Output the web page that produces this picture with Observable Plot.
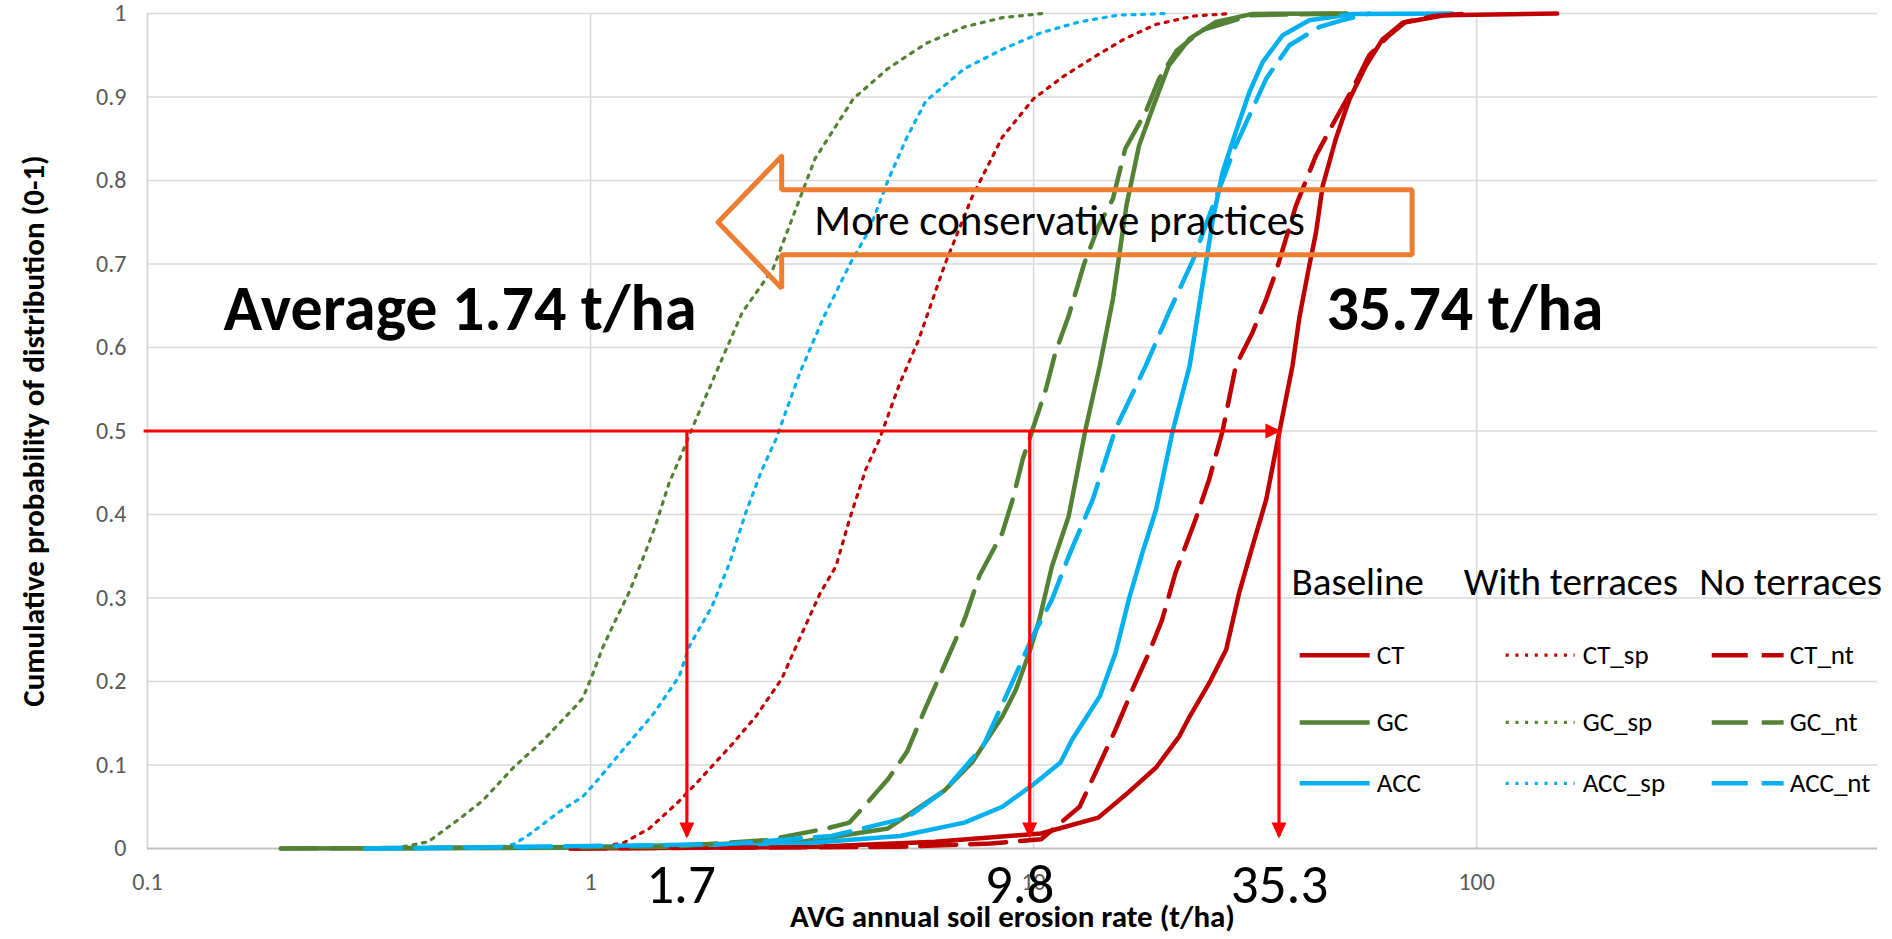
<!DOCTYPE html>
<html>
<head>
<meta charset="utf-8">
<script src="https://cdn.jsdelivr.net/npm/d3@7"></script>
<script src="https://cdn.jsdelivr.net/npm/@observablehq/plot@0.6"></script>
<style>
  html, body { margin: 0; padding: 0; background: #fff; }
  #chart svg { display: block; }
</style>
</head>
<body>
<div id="chart"></div>
<script>
// ---------- Data ----------
const seriesNames  = ["CT", "GC", "ACC", "CT_sp", "GC_sp", "ACC_sp", "CT_nt", "GC_nt", "ACC_nt"];
const seriesColors = ["#C00000", "#548235", "#00B0F0", "#C00000", "#548235", "#00B0F0", "#C00000", "#548235", "#00B0F0"];
const seriesKinds  = ["solid", "solid", "solid", "dot", "dot", "dot", "dash", "dash", "dash"];
const legendHeaders = ["Baseline", "With terraces", "No terraces"];

// Baseline
const CT_x = [0.9, 3.2, 6, 10.4, 14, 16.1, 18.9, 21.3, 22.5, 24.9, 27.2, 29.1, 31.2, 33.5, 35.9, 38.4, 39.8, 41.9, 43.4, 44.9, 48.1, 51.6, 56.2, 61.3, 68.1, 84.5, 152];
const CT_p = [0, 0.002, 0.008, 0.018, 0.037, 0.064, 0.097, 0.134, 0.158, 0.198, 0.238, 0.306, 0.362, 0.418, 0.5, 0.578, 0.636, 0.698, 0.738, 0.793, 0.85, 0.897, 0.937, 0.969, 0.989, 0.998, 1];
const GC_x = [0.2, 1, 3, 4.69, 6.31, 7.26, 8.5, 9.12, 9.77, 10.3, 11.0, 12.0, 13.1, 14.1, 15.1, 16.2, 17.3, 18.9, 20.2, 22.5, 25.8, 31.2, 51];
const GC_p = [0, 0.001, 0.008, 0.024, 0.07, 0.103, 0.158, 0.19, 0.234, 0.274, 0.338, 0.398, 0.502, 0.578, 0.658, 0.77, 0.842, 0.898, 0.938, 0.97, 0.99, 0.9995, 1];
const ACC_x = [0.31, 1, 3, 5, 6.98, 8.5, 10, 11.5, 12.2, 14.1, 15.3, 16.4, 17.6, 18.9, 20.6, 22.5, 24.1, 25.4, 26.7, 28.6, 30.7, 32.9, 36.5, 41.9, 52.5, 88];
const ACC_p = [0, 0.002, 0.006, 0.015, 0.031, 0.05, 0.077, 0.103, 0.13, 0.182, 0.234, 0.298, 0.354, 0.406, 0.5, 0.578, 0.678, 0.754, 0.81, 0.858, 0.906, 0.942, 0.974, 0.992, 0.9995, 1];

// With terraces
const CT_sp_x = [1.08, 1.13, 1.18, 1.357, 1.58, 1.76, 2.08, 2.36, 2.70, 2.91, 3.30, 3.58, 3.84, 4.18, 4.48, 4.98, 5.5, 6.31, 7.26, 8.5, 10, 11.7, 14.0, 16.1, 18.9, 23, 28];
const CT_sp_p = [0, 0.005, 0.006, 0.024, 0.056, 0.082, 0.124, 0.158, 0.203, 0.242, 0.306, 0.338, 0.394, 0.454, 0.489, 0.556, 0.609, 0.70, 0.78, 0.852, 0.898, 0.925, 0.951, 0.97, 0.987, 0.997, 1];
const GC_sp_x = [0.36, 0.43, 0.51, 0.57, 0.67, 0.78, 0.92, 0.96, 1.005, 1.064, 1.14, 1.22, 1.31, 1.40, 1.505, 1.61, 1.73, 1.92, 2.20, 2.58, 2.85, 3.21, 3.92, 4.69, 5.71, 6.98, 8.5, 10.5];
const GC_sp_p = [0, 0.008, 0.037, 0.057, 0.097, 0.129, 0.169, 0.18, 0.205, 0.24, 0.274, 0.306, 0.346, 0.386, 0.438, 0.474, 0.514, 0.57, 0.642, 0.694, 0.754, 0.826, 0.898, 0.934, 0.964, 0.984, 0.995, 1];
const ACC_sp_x = [0.6, 0.67, 0.72, 0.85, 0.96, 1.03, 1.2, 1.39, 1.585, 1.67, 1.88, 2.06, 2.24, 2.43, 2.62, 2.97, 3.35, 3.85, 4.25, 4.69, 5.18, 5.71, 6.98, 8.5, 10.4, 12.7, 15.5, 20];
const ACC_sp_p = [0, 0.005, 0.015, 0.044, 0.062, 0.08, 0.122, 0.162, 0.206, 0.242, 0.29, 0.342, 0.402, 0.452, 0.49, 0.57, 0.635, 0.70, 0.74, 0.80, 0.852, 0.895, 0.934, 0.957, 0.977, 0.99, 0.998, 1];

// No terraces
const CT_nt_x = [0.9, 5, 8, 10.4, 12.7, 15.3, 16.7, 18.2, 19.5, 20.9, 23.2, 24.9, 26.7, 28.6, 31.2, 33.5, 35.2, 39.1, 43.4, 48.1, 52.5, 57.2, 63.5, 69.2, 80, 95];
const CT_nt_p = [0, 0.002, 0.006, 0.011, 0.05, 0.142, 0.19, 0.234, 0.274, 0.33, 0.394, 0.442, 0.5, 0.578, 0.618, 0.658, 0.69, 0.77, 0.83, 0.874, 0.91, 0.95, 0.974, 0.99, 0.997, 1];
const GC_nt_x = [0.2, 1.5, 2.5, 3.41, 3.84, 4.25, 4.69, 5.18, 5.71, 6.31, 6.98, 7.55, 8.5, 8.97, 9.45, 9.95, 10.66, 11.2, 12.0, 13.0, 14.0, 15.1, 16.1, 17.9, 19.2, 21, 24, 31, 51];
const GC_nt_p = [0, 0.002, 0.01, 0.024, 0.031, 0.057, 0.083, 0.116, 0.169, 0.221, 0.274, 0.327, 0.378, 0.418, 0.466, 0.502, 0.55, 0.594, 0.638, 0.70, 0.745, 0.778, 0.838, 0.882, 0.922, 0.955, 0.98, 0.998, 1];
const ACC_nt_x = [0.31, 1, 2, 3.5, 5.18, 6.31, 7.7, 8.97, 9.95, 11.0, 12.0, 13.6, 15.3, 17.9, 20.2, 22.9, 25.4, 28.6, 31.2, 33.5, 37.8, 44.2, 49.8, 57.2];
const ACC_nt_p = [0, 0.003, 0.005, 0.015, 0.037, 0.07, 0.123, 0.2, 0.254, 0.298, 0.35, 0.418, 0.502, 0.578, 0.642, 0.705, 0.77, 0.842, 0.886, 0.922, 0.962, 0.984, 0.992, 1];

const seriesX = [CT_x, GC_x, ACC_x, CT_sp_x, GC_sp_x, ACC_sp_x, CT_nt_x, GC_nt_x, ACC_nt_x];
const seriesP = [CT_p, GC_p, ACC_p, CT_sp_p, GC_sp_p, ACC_sp_p, CT_nt_p, GC_nt_p, ACC_nt_p];

// Axis ticks
const xTicks = [0.1, 1, 10, 100];
const yTicks = [0, 0.1, 0.2, 0.3, 0.4, 0.5, 0.6, 0.7, 0.8, 0.9, 1];
const xTitle = "AVG annual soil erosion rate (t/ha)";
const yTitle = "Cumulative probability of distribution (0-1)";

// Annotations (data coordinates)
const bigLabels = ["Average 1.74 t/ha", "35.74 t/ha"];
const bigLabelX = [0.1485, 45.8];
const bigLabelY = [0.646, 0.646];
const valueLabels = ["1.7", "9.8", "35.3"];
const valueLabelX = [1.6, 9.3, 35.9];
const medianArrowX = [1.65, 9.8, 35.8];
const medianLevel = 0.5;
const medianArrowFrom = 0.098;
const medianArrowEnd = 0.015;
const orangeText = "More conservative practices";
const orangeTextX = 3.2;
const orangeTextY = 0.751;
const orangeArrowX = [1.94, 2.70, 2.70, 71.5, 71.5, 2.70, 2.70, 1.94, 2.70];
const orangeArrowY = [0.750, 0.829, 0.789, 0.789, 0.711, 0.711, 0.671, 0.750, 0.829];

// Legend placement (data coordinates)
const legendHeaderX = [38.2, 93.5, 318];
const legendHeaderY = 0.318;
const legendSwatchX1 = [39.86, 116.3, 339.3];
const legendSwatchX2 = [57.35, 166.4, 493];
const legendLabelX = [59.5, 173.5, 508.8];
const legendRowY = [0.2315, 0.151, 0.078];

// ---------- Build ----------
const FONT = "Carlito, Lato, 'Open Sans', sans-serif";
const kindStyle = {
  solid: {strokeWidth: 4.5},
  dot:   {strokeWidth: 3.2, strokeDasharray: "3,6.7"},
  dash:  {strokeWidth: 4.5, strokeDasharray: "36,14"}
};

const curveMarks = seriesNames.map((name, i) => {
  const rows = seriesX[i].map((x, j) => ({x, p: seriesP[i][j]}));
  return Plot.line(rows, {
    x: "x", y: "p", stroke: seriesColors[i], curve: "linear",
    strokeLinejoin: "round", ...kindStyle[seriesKinds[i]]
  });
});

const legendMarks = seriesNames.flatMap((name, i) => {
  const col = Math.floor(i / 3), row = i % 3;
  return [
    Plot.link([name], {
      x1: () => legendSwatchX1[col], x2: () => legendSwatchX2[col],
      y1: () => legendRowY[row], y2: () => legendRowY[row],
      stroke: seriesColors[i], ...kindStyle[seriesKinds[i]],
      strokeWidth: seriesKinds[i] === "dot" ? 3.2 : 4.5
    }),
    Plot.text([name], {
      x: () => legendLabelX[col], y: () => legendRowY[row], text: d => d,
      textAnchor: "start", lineAnchor: "middle", fontSize: 27, fill: "#000"
    })
  ];
});

function triangleMarker(color) {
  const m = d3.create("svg:marker")
    .attr("viewBox", "0 -5 10 10")
    .attr("refX", 8.5).attr("refY", 0)
    .attr("markerUnits", "userSpaceOnUse")
    .attr("markerWidth", 16).attr("markerHeight", 15)
    .attr("preserveAspectRatio", "none")
    .attr("orient", "auto")
    .attr("overflow", "visible");
  m.append("path").attr("d", "M0,-5L10,0L0,5Z").attr("fill", color).attr("stroke", "none");
  return m.node();
}

const chart = Plot.plot({
  width: 1892,
  height: 939,
  marginLeft: 147,
  marginRight: 15,
  marginTop: 13,
  marginBottom: 91,
  x: {type: "log", domain: [0.1, 803]},
  y: {domain: [0, 1]},
  style: {fontFamily: FONT, background: "#fff", overflow: "visible"},
  marks: [
    Plot.gridY(yTicks.filter(d => d > 0), {stroke: "#d9d9d9", strokeOpacity: 1, strokeWidth: 1.6}),
    Plot.gridX(xTicks.filter(d => d > 0.1), {stroke: "#d9d9d9", strokeOpacity: 1, strokeWidth: 1.6}),
    Plot.ruleX([0.1], {stroke: "#d9d9d9", strokeWidth: 2}),
    Plot.ruleY([0], {stroke: "#bfbfbf", strokeWidth: 2}),
    Plot.axisX(xTicks, {tickSize: 0, tickPadding: 24, fontSize: 24, color: "#595959", tickFormat: d => String(d), label: null}),
    Plot.axisY(yTicks, {tickSize: 0, tickPadding: 21, fontSize: 24, color: "#595959", tickFormat: d => String(+d.toFixed(1)), label: null}),
    ...curveMarks,
    Plot.line(orangeArrowX.map((x, i) => ({x, y: orangeArrowY[i]})), {
      x: "x", y: "y", stroke: "#ED7D31", strokeWidth: 5, strokeLinejoin: "miter", curve: "linear"
    }),
    Plot.text([orangeText], {x: () => orangeTextX, y: () => orangeTextY, text: d => d, textAnchor: "start", lineAnchor: "middle", fontSize: 43, fill: "#000"}),
    Plot.link([medianLevel], {
      x1: () => medianArrowFrom, x2: () => medianArrowX[2], y1: d => d, y2: d => d,
      stroke: "#FF0000", strokeWidth: 3.2, markerEnd: triangleMarker
    }),
    Plot.link(medianArrowX, {
      x1: d => d, x2: d => d, y1: () => medianLevel, y2: () => medianArrowEnd,
      stroke: "#FF0000", strokeWidth: 3.2, markerEnd: triangleMarker
    }),
    Plot.text(bigLabels, {x: (d, i) => bigLabelX[i], y: (d, i) => bigLabelY[i], text: d => d, textAnchor: "start", lineAnchor: "middle", fontSize: 64, fontWeight: "bold", fill: "#000"}),
    Plot.text(valueLabels, {x: (d, i) => valueLabelX[i], y: () => 0, dy: 37, text: d => d, textAnchor: "middle", lineAnchor: "middle", fontSize: 55, fill: "#000"}),
    Plot.text(legendHeaders, {x: (d, i) => legendHeaderX[i], y: () => legendHeaderY, text: d => d, textAnchor: "start", lineAnchor: "middle", fontSize: 39, fill: "#000"}),
    ...legendMarks,
    Plot.text([xTitle], {frameAnchor: "bottom", dy: 69, text: d => d, textAnchor: "middle", lineAnchor: "middle", fontSize: 31, fontWeight: "bold", fill: "#000"}),
    Plot.text([yTitle], {frameAnchor: "left", dx: -113, rotate: -90, text: d => d, textAnchor: "middle", lineAnchor: "middle", fontSize: 31, fontWeight: "bold", fill: "#000"})
  ]
});

document.getElementById("chart").append(chart);
</script>
</body>
</html>
